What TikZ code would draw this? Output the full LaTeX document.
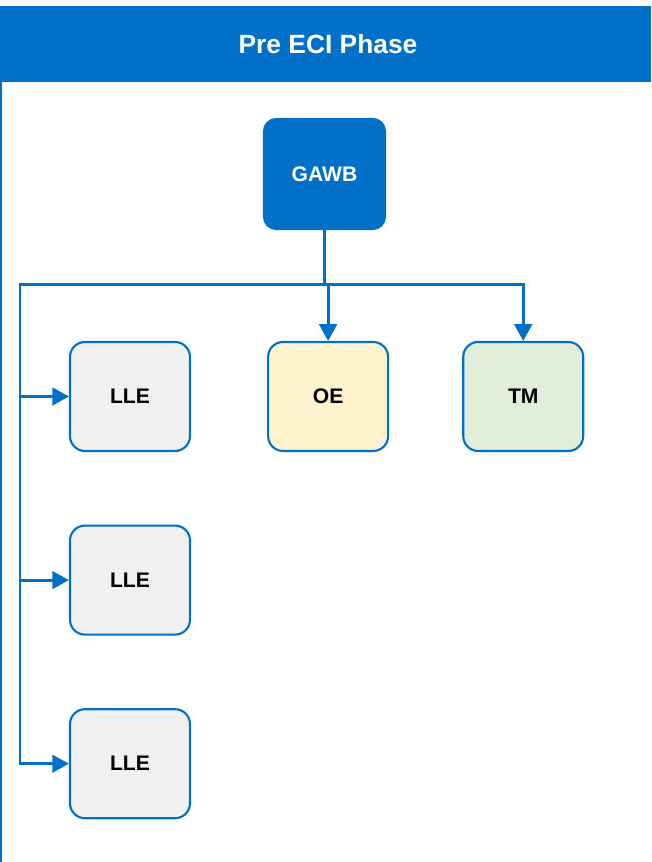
\documentclass[tikz,border=0pt]{standalone}
\usepackage{fontspec}
\setmainfont{Liberation Sans}
\usetikzlibrary{arrows.meta,positioning}
\definecolor{laneblue}{HTML}{0070C8}
\definecolor{llegray}{HTML}{F1F1F1}
\definecolor{oeyellow}{HTML}{FFF2CE}
\definecolor{tmgreen}{HTML}{E1EEDA}
\tikzset{
  unit/.style={draw=laneblue,line width=1.2pt,rounded corners=8.5pt,minimum width=2.4cm,minimum height=2.18cm,font=\bfseries\fontsize{12}{14}\selectfont},
  link/.style={laneblue,line width=1.7pt,-{Triangle[length=9.5pt,width=10pt]}}
}
\begin{document}
\begin{tikzpicture}[node distance=1.45cm]
\useasboundingbox (0,0) rectangle (13.02,17.24);
% lane
\fill[laneblue] (0,15.60) rectangle (13.02,17.12);
\node[white,font=\bfseries\fontsize{15}{18}\selectfont] (title) at (6.56,16.36) {Pre ECI Phase};
\draw[laneblue,line width=1.6pt] (0.02,15.60)--(0.02,0);

\node[unit,fill=laneblue,text=white,rounded corners=7pt,minimum width=2.42cm,minimum height=2.2cm] (gawb) at (6.49,13.76) {GAWB};
\node[unit,fill=llegray] (lle1) at (2.6,9.31) {LLE};
\node[unit,fill=oeyellow,right=1.52cm of lle1] (oe) {OE};
\node[unit,fill=tmgreen,right=1.46cm of oe] (tm) {TM};
\node[unit,fill=llegray,below=of lle1] (lle2) {LLE};
\node[unit,fill=llegray,below=of lle2] (lle3) {LLE};

\coordinate (split) at (gawb.south |- 0,11.54);
\coordinate (trunk) at (0.4,11.54);
\draw[link] (gawb.south)--(split)-|(oe.north);
\draw[link] (gawb.south)--(split)-|(tm.north);
\foreach \n in {lle1,lle2,lle3}
  \draw[link] (gawb.south)--(split)--(trunk)|-(\n.west);
\end{tikzpicture}
\end{document}
